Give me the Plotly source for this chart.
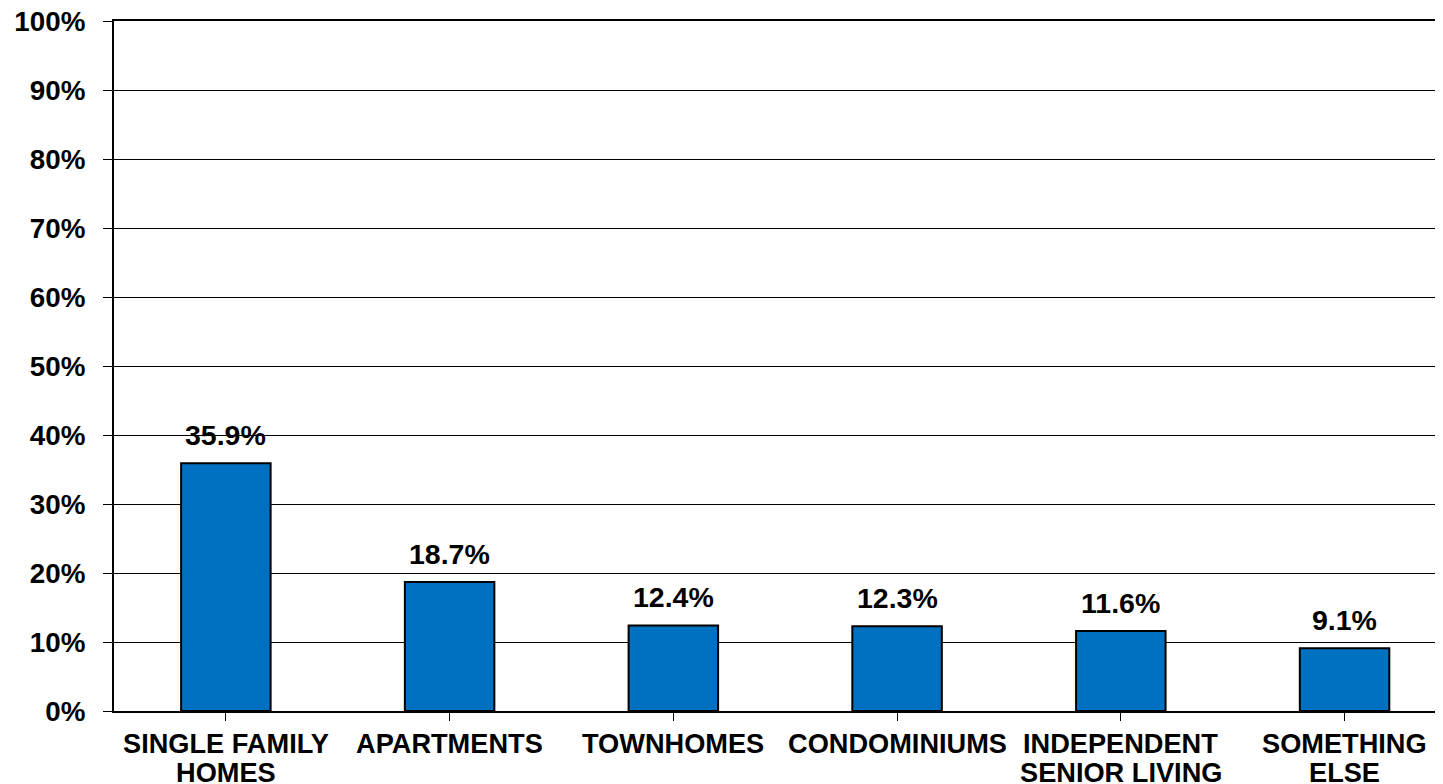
import plotly.graph_objects as go

# 数据
line1 = ['SINGLE FAMILY', 'APARTMENTS', 'TOWNHOMES', 'CONDOMINIUMS',
         'INDEPENDENT', 'SOMETHING']
line2 = ['HOMES', '', '', '', 'SENIOR LIVING', 'ELSE']
values = [0.359, 0.187, 0.124, 0.123, 0.116, 0.091]
labels = ['35.9%', '18.7%', '12.4%', '12.3%', '11.6%', '9.1%']
ytick_vals = [i / 10 for i in range(11)]

FONT = 'Liberation Sans, Arial, sans-serif'
xs = list(range(len(line1)))

fig = go.Figure()

fig.add_trace(
    go.Bar(
        x=xs,
        y=values,
        width=0.4,
        marker=dict(color='#0070C0', line=dict(color='black', width=2)),
        hoverinfo='skip',
    )
)

# 数据标签
for i, (v, t) in enumerate(zip(values, labels)):
    fig.add_annotation(
        x=i, y=v, text='<b>%s</b>' % t,
        showarrow=False, yanchor='bottom', yshift=10,
        font=dict(family=FONT, size=28.5, color='black'),
    )

# 分类标签（两行，行距较紧）
for i in xs:
    fig.add_annotation(
        x=i, y=0, text='<b>%s</b>' % line1[i],
        showarrow=False, yanchor='top', yshift=-15,
        font=dict(family=FONT, size=27.2, color='black'),
    )
    if line2[i]:
        fig.add_annotation(
            x=i, y=0, text='<b>%s</b>' % line2[i],
            showarrow=False, yanchor='top', yshift=-44,
            font=dict(family=FONT, size=27.2, color='black'),
        )

# 页面 body 自带 8px 边距，所以图表尺寸减去 8
fig.update_layout(
    width=1435,
    height=776,
    margin=dict(l=106, r=0, t=13, b=73),
    paper_bgcolor='white',
    plot_bgcolor='white',
    showlegend=False,
    bargap=0.6,
)

fig.update_xaxes(
    range=[-0.5, 5.44],
    tickmode='array',
    tickvals=xs,
    showticklabels=False,
    tickson='boundaries',
    ticks='outside',
    ticklen=8,
    tickwidth=1,
    tickcolor='black',
    showline=True,
    linecolor='black',
    linewidth=2,
    mirror=True,
    showgrid=False,
    automargin=False,
)

fig.update_yaxes(
    range=[0, 1],
    tickmode='array',
    tickvals=ytick_vals,
    ticktext=['<b>%d%%</b>' % round(v * 100) for v in ytick_vals],
    ticks='outside',
    ticklen=9,
    tickwidth=1,
    tickcolor='black',
    showline=True,
    linecolor='black',
    linewidth=2,
    showgrid=True,
    gridcolor='black',
    gridwidth=1,
    zeroline=False,
    tickfont=dict(family=FONT, size=27.8, color='black'),
    ticklabelstandoff=12,
    ticklabeloverflow='allow',
    automargin=False,
)

fig.write_html("out.html")
